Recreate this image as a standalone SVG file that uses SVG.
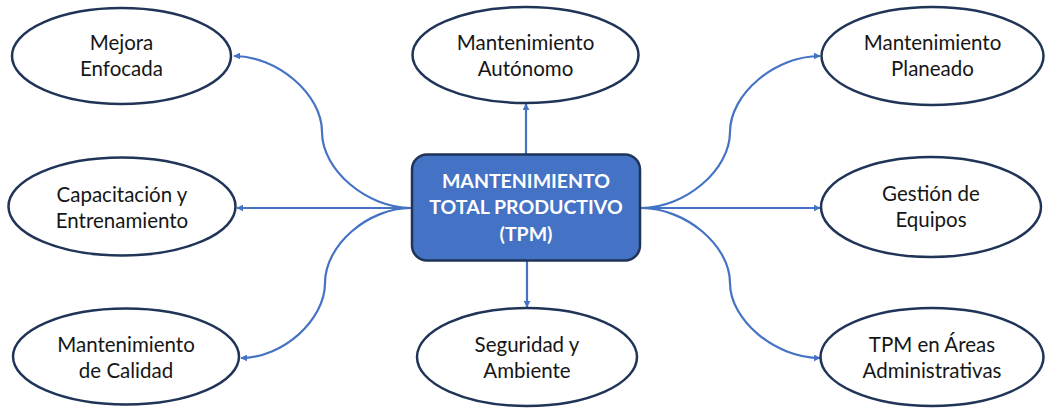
<svg xmlns="http://www.w3.org/2000/svg" width="1045" height="408" viewBox="0 0 1045 408">
<defs>
<marker id="arr" viewBox="0 0 10 10" refX="9" refY="5" markerWidth="7" markerHeight="7" markerUnits="userSpaceOnUse" orient="auto">
<path d="M0,0 L10,5 L0,10 z" fill="#4472C4"/>
</marker>
</defs>
<style>
.bg{fill:#ffffff}
.el{fill:#ffffff;stroke:#1F3457;stroke-width:2.5}
.ctr{fill:#4472C4;stroke:#1F3457;stroke-width:2.5}
.cn{fill:none;stroke:#4472C4;stroke-width:2.2;marker-end:url(#arr)}
.t{font-family:Lato,"Open Sans","Liberation Sans",sans-serif;font-size:20.5px;fill:#161616;text-anchor:middle}
.tc{font-family:Lato,"Open Sans","Liberation Sans",sans-serif;font-size:19.5px;font-weight:bold;fill:#ffffff;text-anchor:middle}
</style>
<rect class="bg" x="0" y="0" width="1045" height="408"/>
<g id="connectors">
<path class="cn" d="M526,155 L526,104"/>
<path class="cn" d="M527,261 L527,307"/>
<path class="cn" d="M411,208 L237,208"/>
<path class="cn" d="M411,208 C367,208 322,170 322,132 C322,94 277,56 234,56"/>
<path class="cn" d="M411,208 C368,208 325,245 325,283 C325,320 283,358 241,358"/>
<path class="cn" d="M641,208 L820,208"/>
<path class="cn" d="M641,208 C685,208 730,170 730,132 C730,94 775,56 820,56"/>
<path class="cn" d="M641,208 C685,208 730,245 730,283 C730,320 775,358 820,358"/>
</g>
<g id="center">
<rect class="ctr" x="412" y="154.5" width="228" height="106" rx="15" ry="15"/>
<text class="tc" x="526" y="188">MANTENIMIENTO</text>
<text class="tc" x="526" y="214">TOTAL PRODUCTIVO</text>
<text class="tc" x="526" y="241">(TPM)</text>
</g>
<g id="mejora">
<ellipse class="el" cx="121.5" cy="56" rx="109.5" ry="48"/>
<text class="t" x="121.5" y="50">Mejora</text>
<text class="t" x="121.5" y="76">Enfocada</text>
</g>
<g id="capacitacion">
<ellipse class="el" cx="122" cy="206.5" rx="113.5" ry="49"/>
<text class="t" x="122" y="202">Capacitación y</text>
<text class="t" x="122" y="227.5">Entrenamiento</text>
</g>
<g id="calidad">
<ellipse class="el" cx="126" cy="356.5" rx="113" ry="48"/>
<text class="t" x="126" y="352">Mantenimiento</text>
<text class="t" x="126" y="378">de Calidad</text>
</g>
<g id="autonomo">
<ellipse class="el" cx="525.5" cy="55" rx="113" ry="48"/>
<text class="t" x="525.5" y="50">Mantenimiento</text>
<text class="t" x="525.5" y="76">Autónomo</text>
</g>
<g id="seguridad">
<ellipse class="el" cx="527" cy="357" rx="110" ry="49"/>
<text class="t" x="527" y="352">Seguridad y</text>
<text class="t" x="527" y="378">Ambiente</text>
</g>
<g id="planeado">
<ellipse class="el" cx="932.5" cy="56" rx="111" ry="49"/>
<text class="t" x="932.5" y="50">Mantenimiento</text>
<text class="t" x="932.5" y="76">Planeado</text>
</g>
<g id="gestion">
<ellipse class="el" cx="931" cy="207" rx="110" ry="50"/>
<text class="t" x="931" y="201">Gestión de</text>
<text class="t" x="931" y="227">Equipos</text>
</g>
<g id="tpm-areas">
<ellipse class="el" cx="932" cy="357" rx="111.5" ry="49"/>
<text class="t" x="932" y="352">TPM en Áreas</text>
<text class="t" x="932" y="378">Administrativas</text>
</g>
</svg>
